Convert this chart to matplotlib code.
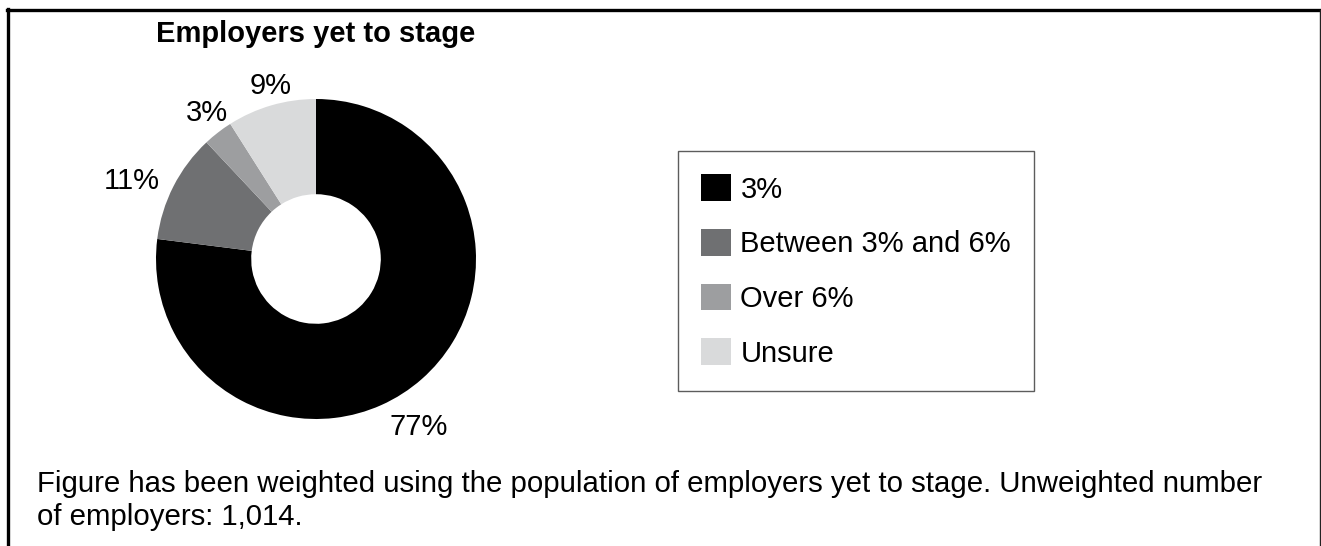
import numpy as np
import matplotlib.pyplot as plt
from matplotlib.lines import Line2D

plt.rcParams['font.family'] = ['Liberation Sans', 'DejaVu Sans']

# Employer contribution plans (share of employers yet to stage)
categories = ['3%', 'Between 3% and 6%', 'Over 6%', 'Unsure']
shares = [77, 11, 3, 9]
share_labels = ['77%', '11%', '3%', '9%']
colors = ['#000000', '#6f7072', '#9d9ea0', '#d9dadb']

title = 'Employers yet to stage'
note = ('Figure has been weighted using the population of employers yet to stage. Unweighted number\n'
        'of employers: 1,014.')

W, H = 1321, 546
fig = plt.figure(figsize=(W / 100, H / 100), dpi=100)

# donut axes: centre (316, 259) px, outer radius 160 px
cx, cy, R = 316, 259, 160
half = 170
ax = fig.add_axes([(cx - half) / W, (H - cy - half) / H, 2 * half / W, 2 * half / H])
wedges, _ = ax.pie(shares, colors=colors, startangle=90, counterclock=False,
                   radius=1.0, wedgeprops=dict(width=0.595, linewidth=0))
ax.set_xlim(-half / R, half / R)
ax.set_ylim(-half / R, half / R)
ax.set_aspect('equal')
ax.axis('off')

# value labels placed around the ring (angle offset in degrees, radial distance)
label_place = [(-10, 1.23), (4, 1.25), (-1, 1.14), (-1.5, 1.12)]
for w, lab, (dang, dist) in zip(wedges, share_labels, label_place):
    mid = np.deg2rad((w.theta1 + w.theta2) / 2 + dang)
    ax.text(dist * np.cos(mid), dist * np.sin(mid), lab, ha='center', va='center',
            fontsize=21)

fig.text(cx / W, 1 - 34 / H, title, ha='center', va='center', fontsize=21, fontweight='bold')

leg = fig.legend(wedges, categories, loc='upper left',
                 bbox_to_anchor=(678 / W, 1 - 151 / H), bbox_transform=fig.transFigure,
                 fontsize=21, frameon=True, fancybox=False, borderaxespad=0,
                 handlelength=1.03, handleheight=1.03, handletextpad=0.31,
                 labelspacing=0.87, borderpad=0.8)
leg.get_frame().set_edgecolor('#333333')
leg.get_frame().set_linewidth(1.0)

fig.text(37 / W, 1 - 470 / H, note, ha='left', va='top', fontsize=21.2, linespacing=1.22)

# outer frame: heavy top and left rules, thin right rule
fig.add_artist(Line2D([7 / W, 1 - 1 / W], [1 - 10 / H, 1 - 10 / H], color='black', linewidth=2.4,
                      transform=fig.transFigure))
fig.add_artist(Line2D([8 / W, 8 / W], [0, 1 - 9 / H], color='black', linewidth=2.4,
                      transform=fig.transFigure))
fig.add_artist(Line2D([1 - 1.5 / W, 1 - 1.5 / W], [0, 1 - 10 / H], color='#222222', linewidth=1.0,
                      transform=fig.transFigure))

fig.savefig('out.png', dpi=100)
